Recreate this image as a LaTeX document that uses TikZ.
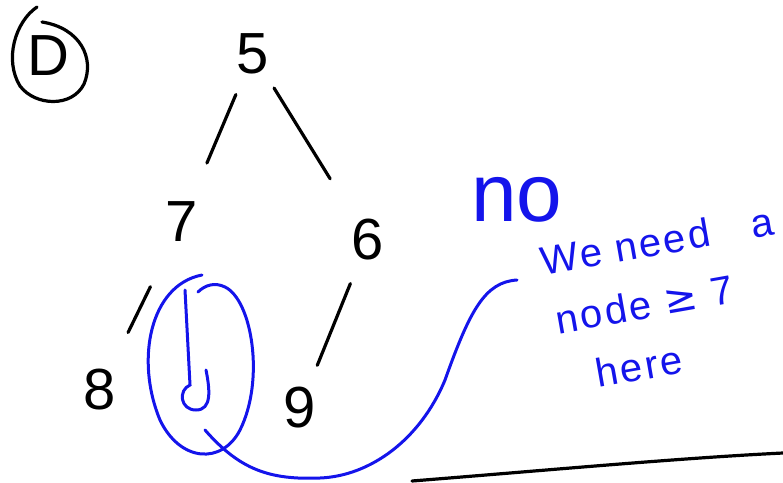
\documentclass[tikz,border=0pt]{standalone}
\usepackage{fontspec}
\setmainfont{Liberation Sans}
\newfontfamily\symfont{DejaVu Sans}
\newfontfamily\notefont[LetterSpace=6]{Liberation Sans}
\definecolor{inkblue}{RGB}{20,20,235}
\begin{document}
\begin{tikzpicture}[x=1pt,y=-1pt,
  digit/.style={inner sep=0pt, font=\fontsize{58}{60}\selectfont},
  edgeline/.style={black, line width=3.2pt, line cap=round},
  blueink/.style={inkblue, line width=3pt, line cap=round},
  bluetext/.style={inkblue, inner sep=0pt}]
\useasboundingbox (0,0) rectangle (783,482);
% label D
\node[inner sep=0pt, font=\fontsize{58}{60}\selectfont] (lab) at (48,56) {D};
\draw[edgeline] (37,7) .. controls (15,22) and (4,60) .. (20,86)
  .. controls (35,106) and (72,108) .. (84,84)
  .. controls (95,58) and (80,28) .. (42,22);
% tree
\node[digit] (n5) at (253,54) {5};
\node[digit] (n7) at (182,222) {7};
\node[digit] (n6) at (368,240) {6};
\node[digit] (n8) at (100,390) {8};
\node[digit] (n9) at (300,408) {9};
\draw[edgeline, shorten <=44pt, shorten >=64pt] (n5.center) -- (n7.center);
\draw[edgeline, shorten <=40pt, shorten >=72pt] (n5.center) -- (n6.center);
\draw[edgeline, shorten <=72pt, shorten >=64pt] (n7.center) -- (n8.center);
\draw[edgeline, shorten <=47pt, shorten >=46pt] (n6.center) -- (n9.center);
% blue annotations
\coordinate (top) at (185,290);
\coordinate (tail) at (517,280);
\draw[blueink] (top) -- (190,385) .. controls (178,390) and (180,410) .. (196,410)
  .. controls (212,410) and (210,390) .. (206,370);
\draw[blueink] (202,275) .. controls (150,285) and (135,360) .. (160,420)
  .. controls (180,462) and (222,465) .. (240,430)
  .. controls (265,380) and (252,300) .. (225,287)
  .. controls (215,282) and (205,285) .. (198,292);
\draw[blueink] (205,430) .. controls (240,470) and (270,480) .. (320,478)
  .. controls (370,476) and (420,440) .. (445,380)
  .. controls (470,310) and (485,282) .. (tail);
\node[bluetext, font=\fontsize{82}{86}\selectfont] (no) at (517,200) {no};
\node[bluetext, rotate=10, anchor=base west, align=left,
  font=\notefont\fontsize{40}{60}\selectfont] (note) at (564,394)
  {We need\hspace{42pt}a\\
   \hspace*{5pt}node {\symfont ≥} 7\\
   \hspace*{35pt}here};
% bottom line
\draw[edgeline] (412,481) .. controls (550,470) and (680,458) .. (783,453);
\end{tikzpicture}
\end{document}
